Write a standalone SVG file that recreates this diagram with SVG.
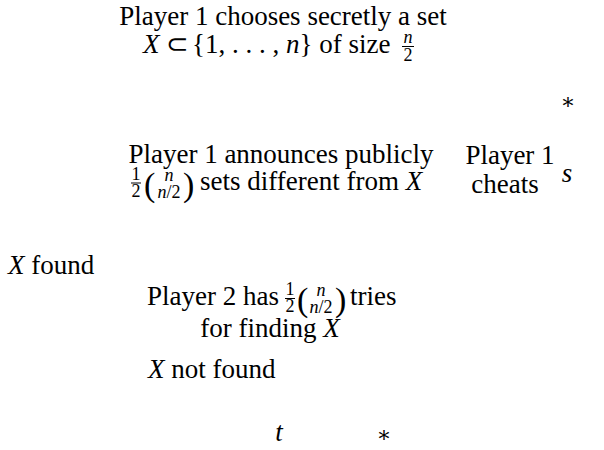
<svg xmlns="http://www.w3.org/2000/svg" width="604" height="450" viewBox="0 0 604 450">
<style>
text{font-family:"Liberation Serif","Times New Roman",serif;font-size:27px;fill:#000}
.m{font-style:italic}
.s{font-size:18px}
.p{font-size:34px}
.st{font-size:22px;font-family:"DejaVu Serif",serif}
.bar{stroke:#000;stroke-width:1}
</style>
<rect width="604" height="450" fill="#fff"/>
<g id="choose">
<text x="283" y="25" text-anchor="middle">Player 1 chooses secretly a set</text>
<text x="143" y="53" class="m">X</text>
<text x="166" y="53">⊂</text>
<text x="192" y="53">{1, . . . , <tspan class="m">n</tspan>} of size</text>
<text class="s m" x="408" y="43" text-anchor="middle">n</text>
<line class="bar" x1="402" y1="46.5" x2="414" y2="46.5"/>
<text class="s" x="408" y="61" text-anchor="middle">2</text>
</g>
<g id="star1"><text class="st" x="568" y="109" text-anchor="middle">∗</text></g>
<g id="announce">
<text x="281" y="163" text-anchor="middle">Player 1 announces publicly</text>
<text class="s" x="136" y="180" text-anchor="middle">1</text>
<line class="bar" x1="131" y1="183" x2="141" y2="183"/>
<text class="s" x="136" y="197" text-anchor="middle">2</text>
<text class="p" x="144" y="196">(</text>
<text class="s m" x="169" y="181" text-anchor="middle">n</text>
<text class="s" x="169" y="198" text-anchor="middle"><tspan class="m">n</tspan>/2</text>
<text class="p" x="183" y="196">)</text>
<text x="200" y="190">sets different from <tspan class="m">X</tspan></text>
</g>
<g id="cheats">
<text x="510" y="164" text-anchor="middle">Player 1</text>
<text x="505" y="193" text-anchor="middle">cheats</text>
</g>
<g id="s"><text class="m" x="567" y="182" text-anchor="middle">s</text></g>
<g id="found"><text x="8" y="274"><tspan class="m">X</tspan> found</text></g>
<g id="player2">
<text x="147" y="305">Player 2 has</text>
<text class="s" x="290" y="295" text-anchor="middle">1</text>
<line class="bar" x1="285" y1="298.5" x2="295" y2="298.5"/>
<text class="s" x="290" y="312" text-anchor="middle">2</text>
<text class="p" x="297" y="311">(</text>
<text class="s m" x="321" y="296" text-anchor="middle">n</text>
<text class="s" x="321" y="313" text-anchor="middle"><tspan class="m">n</tspan>/2</text>
<text class="p" x="335" y="311">)</text>
<text x="350" y="305">tries</text>
<text x="270" y="337" text-anchor="middle">for finding <tspan class="m">X</tspan></text>
</g>
<g id="notfound"><text x="148" y="378"><tspan class="m">X</tspan> not found</text></g>
<g id="t"><text class="m" x="279" y="441" text-anchor="middle">t</text></g>
<g id="star2"><text class="st" x="384" y="442" text-anchor="middle">∗</text></g>
<g id="connectors"></g>
</svg>
